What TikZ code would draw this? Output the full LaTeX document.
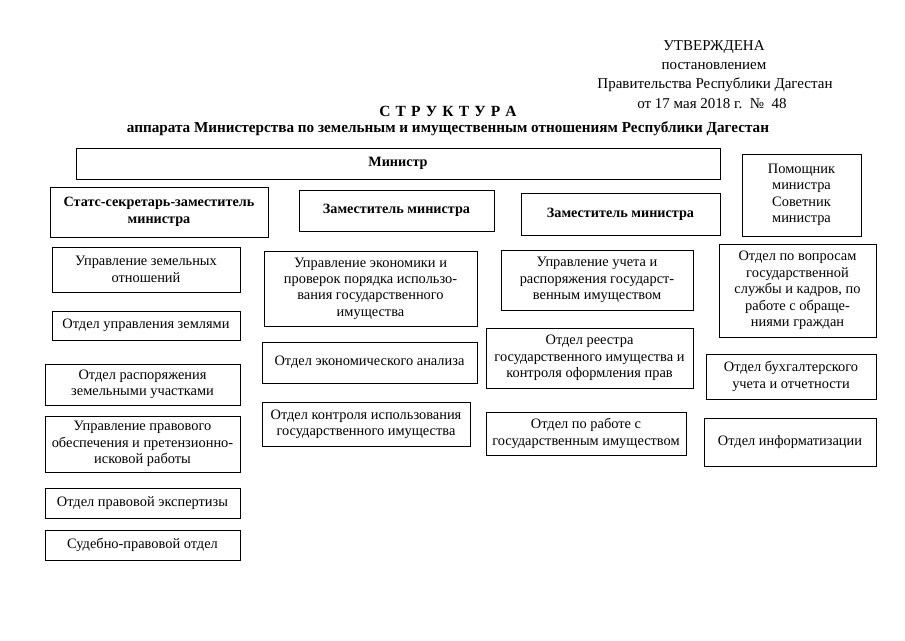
\documentclass[tikz,border=0pt]{standalone}
\usepackage{fontspec}
\setmainfont{Liberation Serif}
\begin{document}
\begin{tikzpicture}[x=1pt,y=-1pt,
  unit/.style={draw, line width=0.9pt, align=center, inner sep=2pt,
    font=\fontsize{14.4}{16.4}\selectfont},
  chief/.style={unit, font=\fontsize{14.2}{16.4}\selectfont\bfseries},
  stamp/.style={font=\fontsize{15}{16}\selectfont}]

\useasboundingbox (0,0) rectangle (905,640);

% approval stamp
\node[stamp] (approved) at (714,47) {УТВЕРЖДЕНА};
\node[stamp] (decree) at (714,66) {постановлением};
\node[stamp] (govt) at (715,85) {Правительства Республики Дагестан};
\node[stamp] (date) at (712,104) {от 17 мая 2018 г.\ \ №\ \ 48};

% title
\node[font=\fontsize{15.5}{16}\selectfont\bfseries] (title) at (448,111)
  {С\,\,Т\,\,Р\,\,У\,\,К\,\,Т\,\,У\,\,Р\,\,А};
\node[font=\fontsize{15.2}{16}\selectfont\bfseries] (subtitle) at (448,129)
  {аппарата Министерства по земельным и имущественным отношениям Республики Дагестан};

% top level
\node[chief, minimum width=644, minimum height=31] (minister) at (398,163.5) {Министр};
\node[unit, minimum width=119, minimum height=82] (aides) at (801.5,195)
  {Помощник\\министра\\Советник\\министра};
\node[chief, minimum width=218, minimum height=50] (statssec) at (159,212)
  {Статс-секретарь-заместитель\\министра};
\node[chief, minimum width=195, minimum height=41] (deputyA) at (396.5,210.5)
  {Заместитель министра};
\node[chief, minimum width=199, minimum height=42] (deputyB) at (620.5,214)
  {Заместитель министра};

% column 1
\node[unit, minimum width=188, minimum height=45] (landRel) at (146,269.5)
  {Управление земельных\\отношений};
\node[unit, minimum width=188, minimum height=29] (landMgmt) at (146,325.5)
  {Отдел управления землями};
\node[unit, minimum width=195, minimum height=41] (landPlots) at (142.5,384.5)
  {Отдел распоряжения\\земельными участками};
\node[unit, minimum width=195, minimum height=56] (legal) at (142.5,444)
  {Управление правового\\обеспечения и претензионно-\\исковой работы};
\node[unit, minimum width=195, minimum height=30] (legalExp) at (142.5,503)
  {Отдел правовой экспертизы};
\node[unit, minimum width=195, minimum height=30] (court) at (142.5,545)
  {Судебно-правовой отдел};

% column 2
\node[unit, minimum width=213, minimum height=75] (econ) at (370.5,288.5)
  {Управление экономики и\\проверок порядка использо-\\вания государственного\\имущества};
\node[unit, minimum width=215, minimum height=41] (econAn) at (369.5,362.5)
  {Отдел экономического анализа};
\node[unit, minimum width=208, minimum height=44] (useCtrl) at (366,424)
  {Отдел контроля использования\\государственного имущества};

% column 3
\node[unit, minimum width=192, minimum height=60] (account) at (597,280)
  {Управление учета и\\распоряжения государст-\\венным имуществом};
\node[unit, minimum width=207, minimum height=60] (register) at (589.5,358)
  {Отдел реестра\\государственного имущества и\\контроля оформления прав};
\node[unit, minimum width=200, minimum height=43] (property) at (586,433.5)
  {Отдел по работе с\\государственным имуществом};

% column 4
\node[unit, minimum width=157, minimum height=93] (staff) at (797.5,290.5)
  {Отдел по вопросам\\государственной\\службы и кадров, по\\работе с обраще-\\ниями граждан};
\node[unit, minimum width=170, minimum height=45] (books) at (791,376.5)
  {Отдел бухгалтерского\\учета и отчетности};
\node[unit, minimum width=172, minimum height=48] (infoDept) at (790,442)
  {Отдел информатизации};

\end{tikzpicture}
\end{document}
